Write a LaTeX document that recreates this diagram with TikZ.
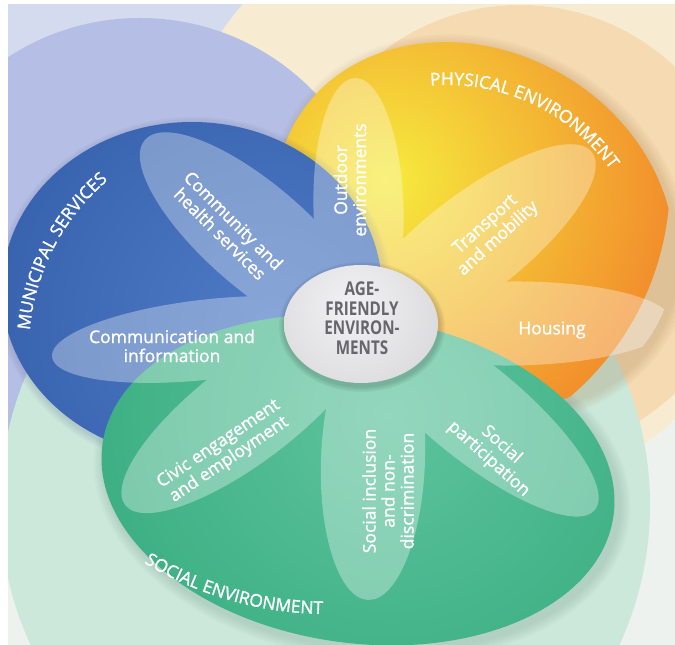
\documentclass[tikz,border=0pt]{standalone}
\usepackage{fontspec}
\setmainfont{Open Sans}
\newfontfamily\medfont[FakeBold=1.3]{Open Sans}
\newfontfamily\condfont[FakeStretch=0.8]{Open Sans}
\usetikzlibrary{decorations.text}
\definecolor{bgbase}{HTML}{EDF2EF}
\definecolor{lavout}{HTML}{D5DBEF}
\definecolor{cream}{HTML}{F7ECD2}
\definecolor{lavmid}{HTML}{B5BEE4}
\definecolor{peach}{HTML}{F6DAB2}
\definecolor{palegreen}{HTML}{CCE8DA}
\definecolor{oryellow}{HTML}{F6EC3E}
\definecolor{ororange}{HTML}{F28F2C}
\definecolor{blueinner}{HTML}{4F7AC6}
\definecolor{blueouter}{HTML}{2B55A0}
\definecolor{greeninner}{HTML}{5EC49E}
\definecolor{greenouter}{HTML}{27A171}
\definecolor{centerinner}{HTML}{F2F2F4}
\definecolor{centerouter}{HTML}{BEBEC3}
\definecolor{centertext}{HTML}{66666B}
\definecolor{orshadow}{HTML}{A07A48}
\definecolor{grshadow}{HTML}{5E8A78}
\definecolor{blshadow}{HTML}{4A5A90}
\newcommand\petalfont{\medfont\fontsize{17.5}{19}\selectfont}
\newcommand\bigfont{\medfont\fontsize{17.5}{18}\selectfont}
\newcommand\hubfont{\condfont\bfseries\fontsize{19}{19.5}\selectfont}
\tikzset{
  petal/.style={fill=white},
  petaltext/.style={text=white, align=center, font=\petalfont, inner sep=0pt},
  hubtext/.style={text=centertext, align=center, font=\hubfont, inner sep=0pt},
  arclabel/.style={decorate, decoration={text along path, text={|\bigfont|#1}, text align=center, text color=white}},
}
\begin{document}
\begin{tikzpicture}[x=1pt,y=1pt]
\useasboundingbox (0,0) rectangle (675,645);
\begin{scope}
\clip (8,0) rectangle (675,640);
% background discs
\fill[bgbase] (8,0) rectangle (675,640);
\fill[lavout] (140,385) circle (300);
\fill[cream] (470,445) circle (300);
\fill[lavmid] (140,385) circle (242);
\fill[peach] (520,415) circle (225);
\fill[palegreen] (325,140) ellipse (325 and 330);
% soft shadows
\foreach \k in {1,...,6}{
  \fill[orshadow, opacity=0.045] (479,416) circle[x radius=207+2*\k, y radius=174+2*\k, rotate=-30];
  \fill[grshadow, opacity=0.04] (362,160) circle[x radius=258+2*\k, y radius=163+2*\k, rotate=-8];
}
% physical environment (orange)
\begin{scope}
  \clip (475,420) circle[x radius=207, y radius=174, rotate=-30];
  \shade[inner color=oryellow, outer color=ororange] (385,465) circle (285);
\end{scope}
% municipal services (blue)
\foreach \k in {1,...,4}{
  \fill[blshadow, opacity=0.05] (194,352) circle[x radius=190+2*\k, y radius=168+2*\k];
}
\begin{scope}
  \clip (192,355) circle[x radius=190, y radius=168];
  \shade[inner color=blueinner, outer color=blueouter] (270,320) circle (440);
\end{scope}
% social environment (green)
\begin{scope}
  \clip (358,165) circle[x radius=258, y radius=163, rotate=-8];
  \shade[inner color=greeninner, outer color=greenouter] (390,230) circle (500);
\end{scope}
% petals
\begin{scope}
  \clip (475,420) circle[x radius=207, y radius=174, rotate=-30]
        (192,355) circle[x radius=190, y radius=168]
        (358,165) circle[x radius=258, y radius=163, rotate=-8];
  \begin{scope}[transparency group, opacity=0.33]
    \fill[petal] (257.5,407.5) circle[x radius=149, y radius=52, rotate=139.1];
    \fill[petal] (358.5,436) circle[x radius=131, y radius=45, rotate=91.5];
    \fill[petal] (471,399) circle[x radius=153, y radius=50, rotate=37.8];
    \fill[petal] (511,321.5) circle[x radius=161, y radius=42, rotate=0.5];
    \fill[petal] (472.5,235) circle[x radius=158, y radius=48, rotate=-39.2];
    \fill[petal] (373,185) circle[x radius=140, y radius=52, rotate=-92];
    \fill[petal] (247.5,233.5) circle[x radius=154, y radius=50, rotate=217.4];
    \fill[petal] (207,305.5) circle[x radius=156, y radius=40, rotate=186.4];
    \fill[petal] (362,323) circle[x radius=105, y radius=85];
  \end{scope}
\end{scope}
% centre
\foreach \k in {1,...,4}{
  \fill[black, opacity=0.045] (362,318) circle[x radius=77+1.5*\k, y radius=59+1.5*\k];
}
\begin{scope}
  \clip (361,321) circle[x radius=77, y radius=59];
  \shade[inner color=centerinner, outer color=centerouter] (352,338) circle (210);
\end{scope}
\node[hubtext] (hub) at (362,327) {AGE-\\FRIENDLY\\ENVIRON-\\MENTS};
% petal labels
\node[petaltext, rotate=-45] (community) at (227,418) {Community and\\health services};
\node[petaltext, rotate=90] (outdoor) at (350,465) {Outdoor\\environments};
\node[petaltext, rotate=42] (transport) at (492,413) {Transport\\and mobility};
\node[petaltext] (housing) at (552,315) {Housing};
\node[petaltext, rotate=-42] (participation) at (495,193) {Social\\participation};
\node[petaltext, rotate=90] (inclusion) at (388,154) {Social inclusion\\and non-\\discrimination};
\node[petaltext, rotate=34] (civic) at (224,193) {Civic engagement\\and employment};
\node[petaltext] (communication) at (172,299) {Communication and\\information};
% domain labels along arcs
\path[arclabel={MUNICIPAL SERVICES}] ([shift={(200:222)}]251,295) arc[start angle=200, end angle=105, radius=222];
\path[arclabel={PHYSICAL ENVIRONMENT}] ([shift={(125:200)}]447,360) arc[start angle=125, end angle=5, radius=200];
\path[arclabel={SOCIAL ENVIRONMENT}] ([shift={(222:352)}]327,383) arc[start angle=222, end angle=286, radius=352];
\end{scope}
\end{tikzpicture}
\end{document}
